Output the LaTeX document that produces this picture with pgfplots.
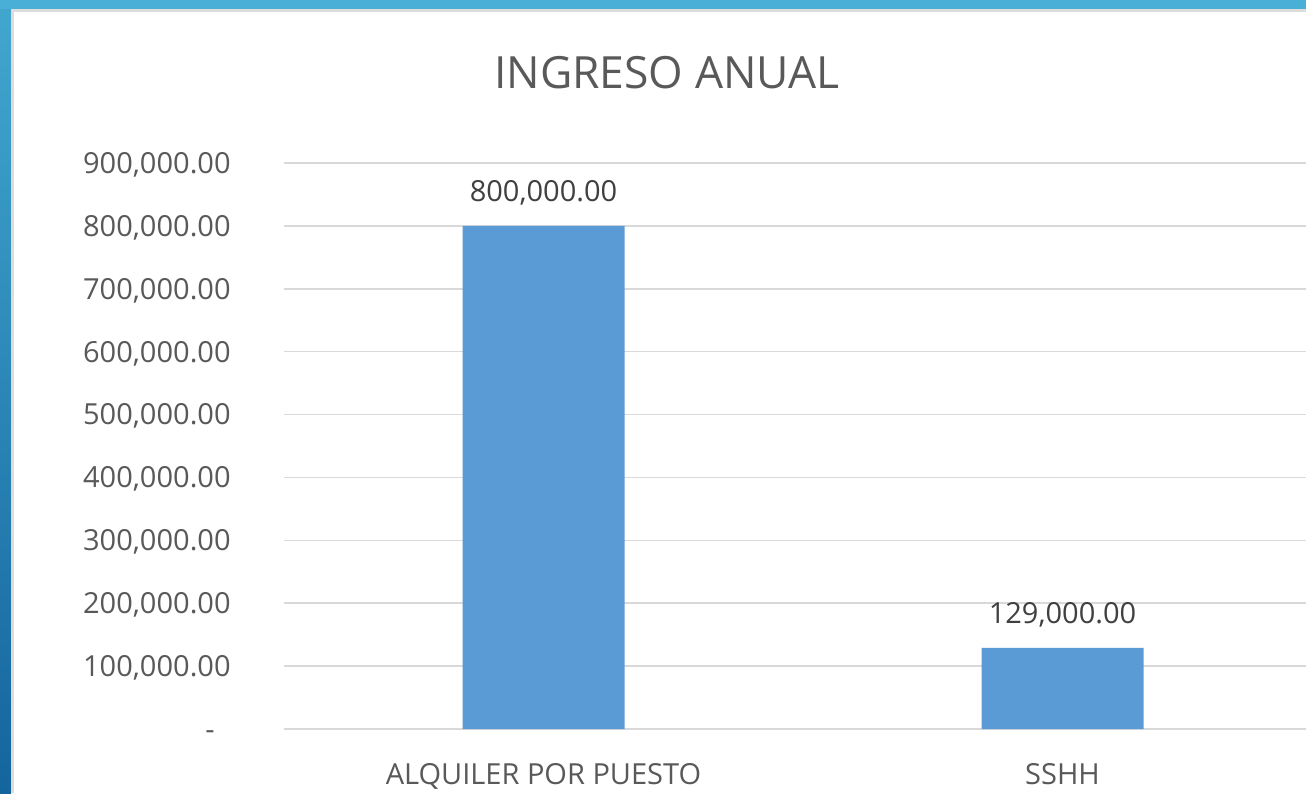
\documentclass[border=0pt]{standalone}
\usepackage{pgfplots}
\pgfplotsset{compat=1.18}
\usepackage{fontspec}
\setmainfont{Open Sans}
\definecolor{barblue}{HTML}{5B9BD5}
\definecolor{gridgray}{HTML}{D9D9D9}
\definecolor{ticktext}{HTML}{595959}
\definecolor{valtext}{HTML}{404040}
\definecolor{frametop}{HTML}{49AFD6}
\definecolor{frameleft}{HTML}{42A7CF}
\definecolor{framebot}{HTML}{14659E}
\definecolor{edgegray}{HTML}{DCDCDC}

\begin{document}
\begin{tikzpicture}
\path[use as bounding box] (0,0) rectangle (653pt,396.5pt);
\clip (0,0) rectangle (653pt,396.5pt);
\fill[white] (0,0) rectangle (653pt,396.5pt);
% blue frame round the slide
\shade[top color=frameleft,bottom color=framebot] (0,0) rectangle (5.5pt,396.5pt);
\fill[frametop] (0,392pt) rectangle (653pt,396.5pt);
\fill[edgegray] (5.5pt,390.5pt) rectangle (653pt,392pt);
\fill[edgegray] (5.5pt,0) rectangle (7pt,392pt);

\node[anchor=base,font=\fontsize{22.2}{27}\selectfont,text=ticktext] at (333.5pt,352pt) {INGRESO ANUAL};

\begin{axis}[at={(142pt,32pt)},anchor=south west,scale only axis,
  width=519pt,height=283pt,
  xmin=-0.5,xmax=1.5,ymin=0,ymax=900000,
  scaled y ticks=false,
  axis line style={draw=none},
  major tick length=0pt,
  ytick={0,100000,200000,300000,400000,500000,600000,700000,800000,900000},
  yticklabels={{-\hspace*{8pt}},{100,000.00},{200,000.00},{300,000.00},{400,000.00},{500,000.00},{600,000.00},{700,000.00},{800,000.00},{900,000.00}},
  xtick={0,1},
  xticklabels={ALQUILER POR PUESTO,SSHH},
  ymajorgrids,
  grid style={color=gridgray,line width=0.75pt},
  yticklabel style={anchor=base east,inner sep=0pt,xshift=-26.5pt,yshift=-5.2pt,
    font=\fontsize{14.5}{17}\selectfont,text=ticktext},
  xticklabel style={anchor=base,inner sep=0pt,yshift=-27.5pt,
    font=\fontsize{14.5}{17}\selectfont,text=ticktext},
  ybar,bar width=81pt,
  point meta=explicit symbolic,
  nodes near coords,
  nodes near coords style={anchor=base,inner sep=0pt,yshift=12pt,
    font=\fontsize{14.5}{17}\selectfont,text=valtext},
  clip=false,
]
\addplot[fill=barblue,draw=none] coordinates {(0,800000)[800,000.00] (1,129000)[129,000.00]};
\end{axis}
\end{tikzpicture}
\end{document}
